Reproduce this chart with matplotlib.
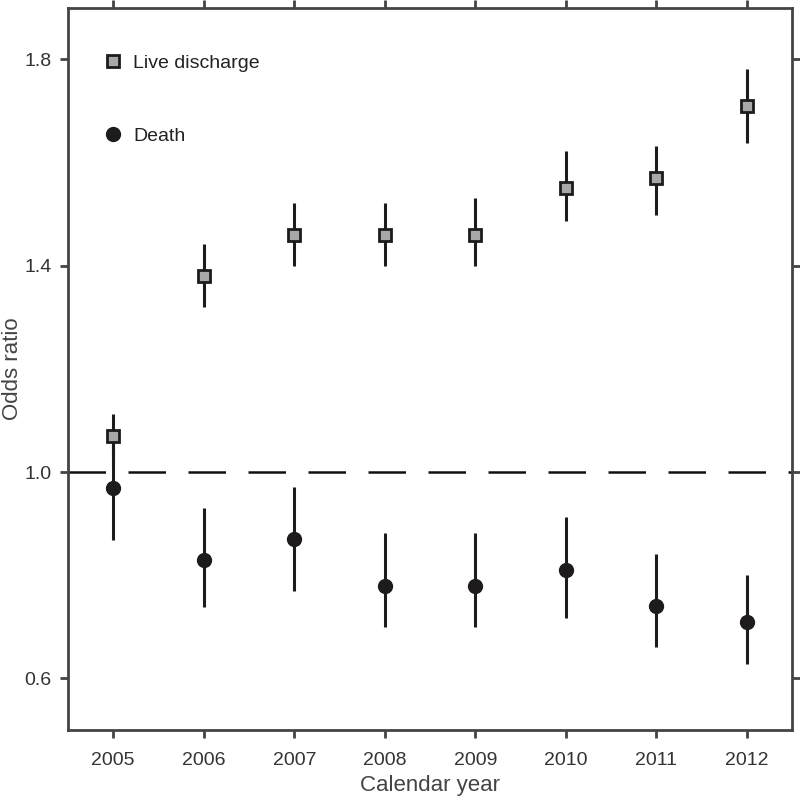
import matplotlib
matplotlib.use("Agg")
import matplotlib.pyplot as plt
from matplotlib.lines import Line2D

plt.rcParams['font.family'] = ['Liberation Sans', 'DejaVu Sans']

years = [2005, 2006, 2007, 2008, 2009, 2010, 2011, 2012]
live_or = [1.07, 1.38, 1.46, 1.46, 1.46, 1.55, 1.57, 1.71]
live_lo = [1.03, 1.32, 1.40, 1.40, 1.40, 1.487, 1.498, 1.637]
live_hi = [1.113, 1.442, 1.521, 1.521, 1.531, 1.622, 1.632, 1.781]
death_or = [0.97, 0.83, 0.87, 0.78, 0.78, 0.81, 0.74, 0.71]
death_lo = [0.869, 0.739, 0.770, 0.699, 0.699, 0.718, 0.660, 0.627]
death_hi = [1.07, 0.931, 0.972, 0.881, 0.881, 0.912, 0.842, 0.801]
yticks = [0.6, 1.0, 1.4, 1.8]

fig = plt.figure(figsize=(8, 7.98), dpi=100)
ax = fig.add_axes([0.085, 0.0852, 0.905, 0.905])

ax.axhline(1.0, color='#111111', lw=1.8, dashes=(15, 9), zorder=1)

ink = '#1e1b1c'
ax.vlines(years, death_lo, death_hi, color=ink, lw=2.2, zorder=2)
ax.vlines(years, live_lo, live_hi, color=ink, lw=2.2, zorder=2)
ax.plot(years, death_or, 'o', ms=10, color=ink, mec=ink, ls='none', zorder=3)
ax.plot(years, live_or, 's', ms=8.5, mfc='#a8a8a8', mec=ink, mew=2.0, ls='none', zorder=3)

ax.set_xlim(2004.5, 2012.5)
ax.set_ylim(0.5, 1.9)
ax.set_xticks(years)
ax.set_xticklabels([str(y) for y in years])
ax.set_yticks(yticks)
ax.set_yticklabels([f"{v:.1f}" for v in yticks])

for s in ax.spines.values():
    s.set_color('#444444')
    s.set_linewidth(2.0)
ax.tick_params(direction='out', length=6, width=2, color='#444444',
               labelsize=14, labelcolor='#333333', top=True, right=True,
               labeltop=False, labelright=False)
ax.tick_params(axis='y', pad=6)
ax.tick_params(axis='x', pad=10)

ax.set_xlabel('Calendar year', fontsize=16, color='#444444', labelpad=4)
ax.set_ylabel('Odds ratio', fontsize=16, color='#444444', labelpad=1)

handles = [Line2D([], [], marker='s', ms=8.5, mfc='#a8a8a8', mec=ink, mew=2.0, ls='none'),
           Line2D([], [], marker='o', ms=10, color=ink, ls='none')]
ax.legend(handles, ['Live discharge', 'Death'], loc='upper left',
          bbox_to_anchor=(0.024, 0.96), frameon=False, fontsize=14,
          labelspacing=2.85, handlelength=1.0, handletextpad=0.55,
          labelcolor='#222222')

fig.savefig('out.png', dpi=100)
